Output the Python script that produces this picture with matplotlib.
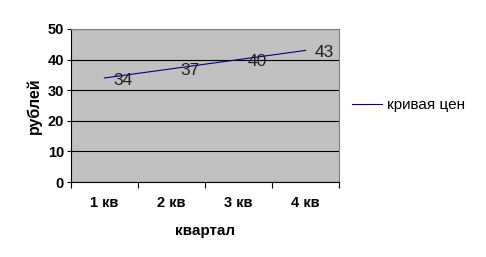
import matplotlib
matplotlib.use("Agg")
import matplotlib.pyplot as plt
import numpy as np
from matplotlib.lines import Line2D

plt.rcParams['font.family'] = ['Liberation Sans', 'DejaVu Sans']

quarters = ['1 кв', '2 кв', '3 кв', '4 кв']
prices = [34, 37, 40, 43]

fig = plt.figure(figsize=(4.86, 2.57), dpi=100)
# plot area in pixels: left 71, right 339, top 29, bottom 182
ax = fig.add_axes([71 / 486, 1 - 182 / 257, (339 - 71) / 486, (182 - 29) / 257])
ax.set_facecolor('#c0c0c0')

x = np.arange(len(quarters))
ax.plot(x, prices, color='#000080', linewidth=0.8)
for xi, v in zip(x, prices):
    ax.annotate(str(v), (xi, v), xytext=(6.5, -1.5), textcoords='offset points',
                fontsize=12.5, color='#202020', va='center', ha='left')

ax.set_xlim(-0.5, 3.5)
ax.set_ylim(0, 50)
ax.set_yticks(range(0, 51, 10))
ax.yaxis.grid(True, color='black', linewidth=0.8)
ax.set_axisbelow(True)

ax.set_xticks(x)
ax.set_xticklabels(quarters, fontsize=10.5, fontweight='bold')
ax.set_xticks(np.arange(-0.5, 4, 1), minor=True)
ax.tick_params(axis='x', which='major', length=0, pad=10)
ax.tick_params(axis='x', which='minor', length=4, direction='out', width=0.8)
ax.tick_params(axis='y', length=3, width=0.8, labelsize=10.5, pad=2)
for lab in ax.get_yticklabels():
    lab.set_fontweight('bold')

ax.spines['top'].set_color('#808080')
ax.spines['right'].set_color('#808080')
for s in ax.spines.values():
    s.set_linewidth(0.8)

ax.set_xlabel('квартал', fontsize=11, fontweight='bold', labelpad=10)
ax.set_ylabel('рублей', fontsize=11.5, fontweight='bold', labelpad=4)

handle = Line2D([], [], color='#000080', linewidth=0.8)
fig.legend([handle], ['кривая цен'], loc='center left',
           bbox_to_anchor=(338 / 486, 1 - 105 / 257), frameon=False,
           fontsize=11, handlelength=2.0, handletextpad=0.3)

fig.savefig('out.png', dpi=100)
